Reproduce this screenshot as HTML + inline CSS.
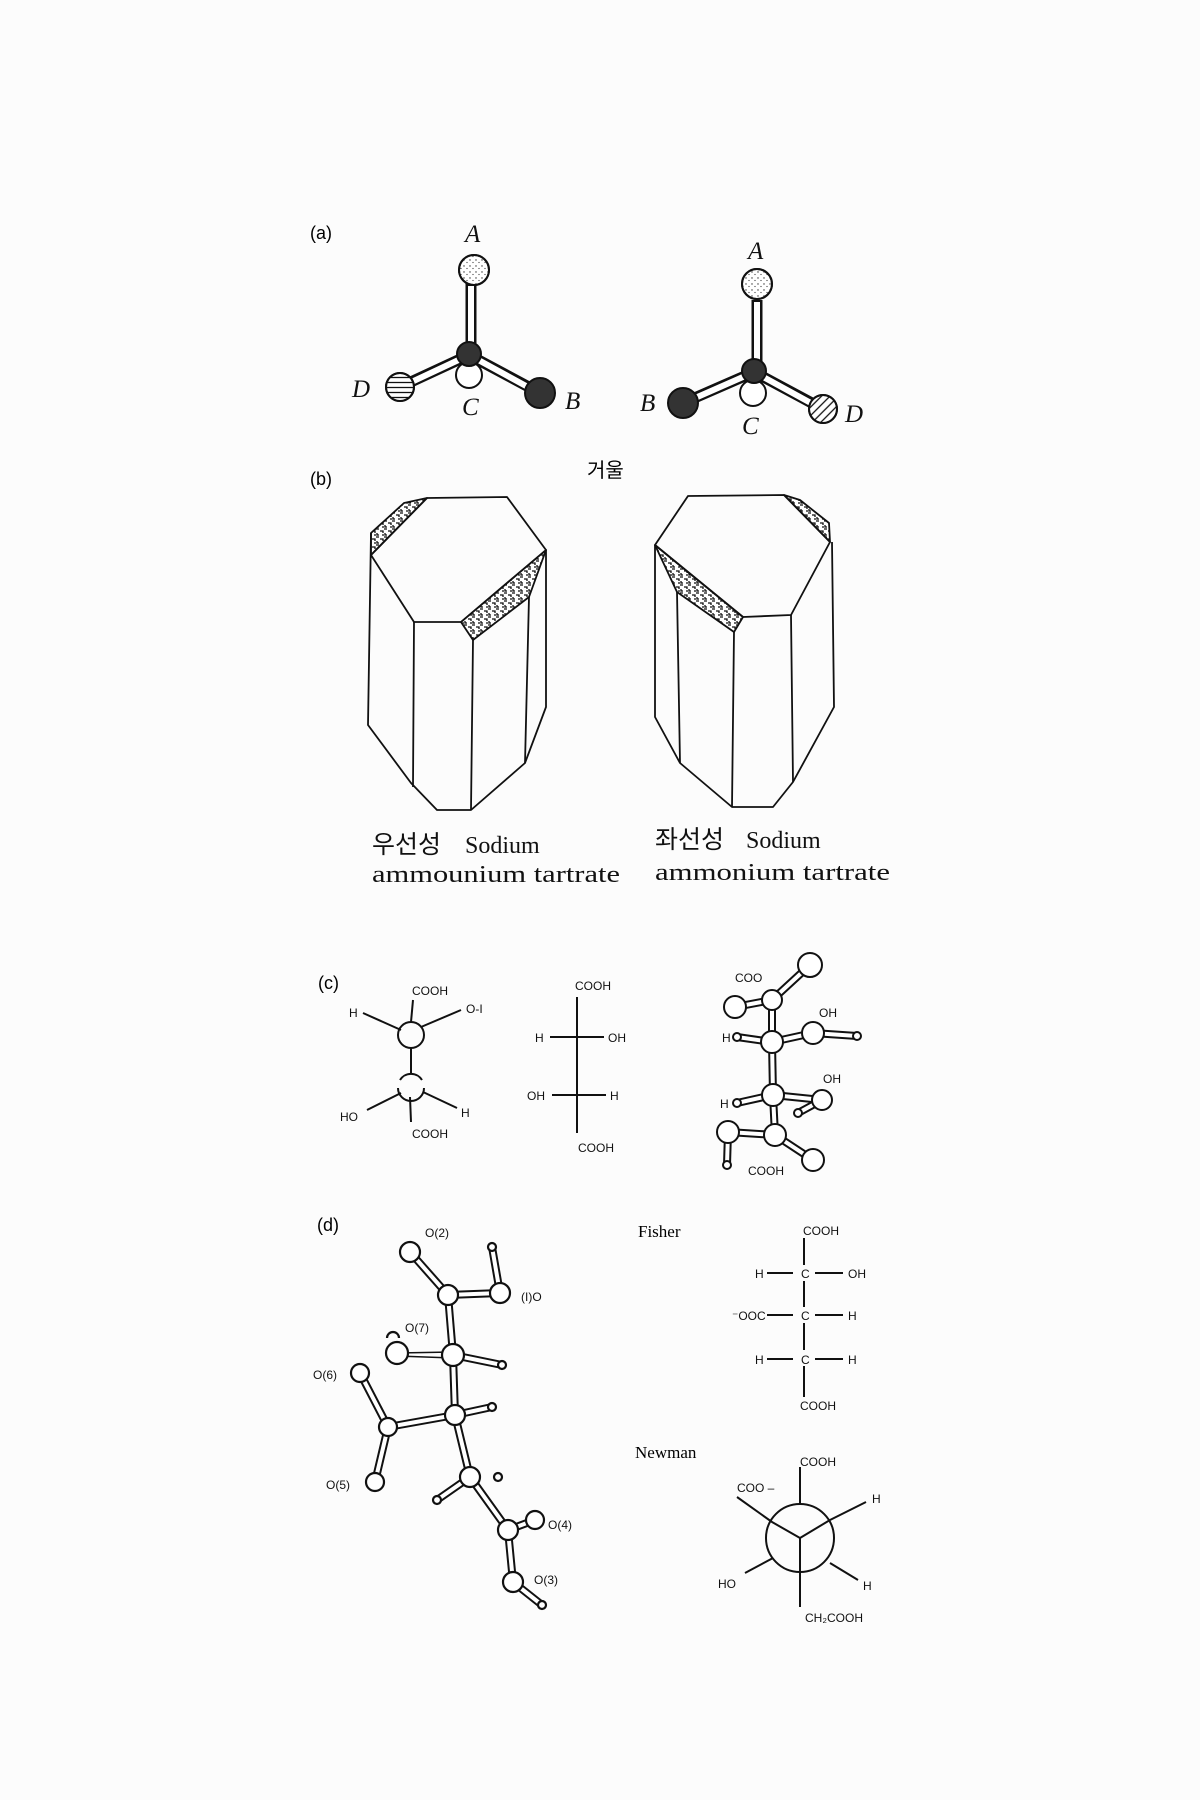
<!DOCTYPE html>
<html><head><meta charset="utf-8"><style>
html,body{margin:0;padding:0;background:#fcfcfc;}
svg{display:block}
.ser{font-family:"Liberation Serif","Noto Serif CJK SC",serif;}
.san{font-family:"Liberation Sans","Noto Sans CJK KR",sans-serif;}
.lb{font-family:"Liberation Sans",sans-serif;font-size:12px;fill:#111;}
</style></head><body>
<svg width="1200" height="1800" viewBox="0 0 1200 1800" xmlns="http://www.w3.org/2000/svg">
<defs>
<pattern id="dots" width="6" height="6" patternUnits="userSpaceOnUse"><circle cx="2" cy="2" r="0.7" fill="#333"/><circle cx="5" cy="4.5" r="0.6" fill="#333"/></pattern>
<pattern id="hz" width="5" height="5" patternUnits="userSpaceOnUse"><line x1="0" y1="2.5" x2="5" y2="2.5" stroke="#111" stroke-width="1.3"/></pattern>
<pattern id="dg" width="6" height="6" patternUnits="userSpaceOnUse" patternTransform="rotate(-45)"><line x1="0" y1="3" x2="6" y2="3" stroke="#111" stroke-width="1.3"/></pattern>
<pattern id="spk" width="8" height="8" patternUnits="userSpaceOnUse"><rect width="8" height="8" fill="#fff"/><path d="M0 1h3M4 3h3v2M1 5v2h2M6 7h2" stroke="#111" stroke-width="1.3" fill="none"/></pattern>
</defs>
<rect width="1200" height="1800" fill="#fcfcfc"/>

<!-- (a) -->
<text x="310" y="239" class="san" font-size="18">(a)</text>
<g stroke="#111" stroke-width="11" stroke-linecap="butt" fill="none">
<path d="M471 283V352M400 387L469 355M540 393L469 355M757 300V368M683 403L754 372M823 409L754 372"/>
</g>
<g stroke="#fff" stroke-width="6" fill="none">
<path d="M471 286V350M403 386L467 356M537 392L471 356M757 302V366M686 402L752 373M820 408L756 373"/>
</g>
<g stroke="#111" stroke-width="2">
<circle cx="474" cy="270" r="15" fill="#fff"/><circle cx="474" cy="270" r="15" fill="url(#dots)"/>
<circle cx="469" cy="375" r="13" fill="#fff"/>
<circle cx="469" cy="354" r="12" fill="#333"/>
<circle cx="400" cy="387" r="14" fill="#fff"/><circle cx="400" cy="387" r="14" fill="url(#hz)"/>
<circle cx="540" cy="393" r="15" fill="#333"/>
<circle cx="757" cy="284" r="15" fill="#fff"/><circle cx="757" cy="284" r="15" fill="url(#dots)"/>
<circle cx="753" cy="393" r="13" fill="#fff"/>
<circle cx="754" cy="371" r="12" fill="#333"/>
<circle cx="683" cy="403" r="15" fill="#333"/>
<circle cx="823" cy="409" r="14" fill="#fff"/><circle cx="823" cy="409" r="14" fill="url(#dg)"/>
</g>
<g class="ser" font-size="25" font-style="italic" fill="#111">
<text x="465" y="242">A</text><text x="352" y="397">D</text><text x="462" y="415">C</text><text x="565" y="409">B</text>
<text x="748" y="259">A</text><text x="640" y="411">B</text><text x="742" y="434">C</text><text x="845" y="422">D</text>
</g>
<text x="587" y="477" class="san" font-size="20">거울</text>

<!-- (b) -->
<text x="310" y="485" class="san" font-size="18">(b)</text>
<g stroke="#111" stroke-width="1.8" fill="none" stroke-linejoin="round">
<path d="M371 533L404 503L427 498L371 555Z" fill="url(#spk)"/>
<path d="M461 622L546 550L529 597L473 640Z" fill="url(#spk)"/>
<path d="M371 555L427 498L507 497L546 550L461 622L414 622Z"/>
<path d="M371 533L368 725L411 783L437 810L471 810L525 763L546 707L546 550"/>
<path d="M414 622L413 787M473 640L471 810M529 597L525 763"/>
<path d="M784 495L800 500L829 523L830 542Z" fill="url(#spk)"/>
<path d="M655 545L743 617L734 632L677 592Z" fill="url(#spk)"/>
<path d="M655 545L688 496L784 495L830 542L791 615L743 617Z"/>
<path d="M655 545L655 717L680 763L732 807L773 807L793 782L834 707L832 542"/>
<path d="M677 592L680 763M734 632L732 807M791 615L793 782"/>
</g>
<g class="ser" font-size="24" fill="#111">
<text x="372" y="853" class="san" font-size="25">우선성</text><text x="465" y="853">Sodium</text>
<text x="372" y="882" textLength="248" lengthAdjust="spacingAndGlyphs">ammounium tartrate</text>
<text x="655" y="848" class="san" font-size="25">좌선성</text><text x="746" y="848">Sodium</text>
<text x="655" y="880" textLength="235" lengthAdjust="spacingAndGlyphs">ammonium tartrate</text>
</g>

<!-- (c) -->
<text x="318" y="989" class="san" font-size="18">(c)</text>
<g stroke="#111" stroke-width="2" fill="none">
<path d="M363 1013L401 1030M413 1000L411 1022M461 1010L421 1027M411 1048V1073M367 1110L401 1093M457 1108L423 1092M410 1097L411 1122"/>
<circle cx="411" cy="1035" r="13"/>
<path d="M400 1080A13 13 0 0 1 422 1080M398 1088A13 13 0 0 0 424 1088"/>
<path d="M577 997V1133M550 1037H604M552 1095H606"/>
</g>
<g class="lb">
<text x="412" y="995">COOH</text><text x="349" y="1017">H</text><text x="466" y="1013">O-I</text>
<text x="340" y="1121">HO</text><text x="461" y="1117">H</text><text x="412" y="1138">COOH</text>
<text x="575" y="990">COOH</text><text x="535" y="1042">H</text><text x="608" y="1042">OH</text>
<text x="527" y="1100">OH</text><text x="610" y="1100">H</text><text x="578" y="1152">COOH</text>
<text x="735" y="982">COO</text><text x="819" y="1017">OH</text><text x="722" y="1042">H</text>
<text x="823" y="1083">OH</text><text x="720" y="1108">H</text><text x="748" y="1175">COOH</text>
</g>
<g stroke="#111" stroke-width="8" fill="none">
<path d="M772 1000L810 965M772 1000L735 1007M772 1000L772 1042M772 1042L737 1037M772 1042L813 1033M813 1033L857 1036M772 1042L773 1095M773 1095L737 1103M773 1095L822 1100M822 1100L798 1113M773 1095L775 1135M775 1135L728 1132M728 1132L727 1165M775 1135L813 1160"/>
</g>
<g stroke="#fff" stroke-width="4" fill="none">
<path d="M772 1000L810 965M772 1000L735 1007M772 1000L772 1042M772 1042L737 1037M772 1042L813 1033M813 1033L857 1036M772 1042L773 1095M773 1095L737 1103M773 1095L822 1100M822 1100L798 1113M773 1095L775 1135M775 1135L728 1132M728 1132L727 1165M775 1135L813 1160"/>
</g>
<g stroke="#111" stroke-width="2" fill="#fff">
<circle cx="810" cy="965" r="12"/><circle cx="772" cy="1000" r="10"/><circle cx="735" cy="1007" r="11"/>
<circle cx="772" cy="1042" r="11"/><circle cx="737" cy="1037" r="4"/><circle cx="813" cy="1033" r="11"/><circle cx="857" cy="1036" r="4"/>
<circle cx="773" cy="1095" r="11"/><circle cx="822" cy="1100" r="10"/><circle cx="798" cy="1113" r="4"/><circle cx="737" cy="1103" r="4"/>
<circle cx="775" cy="1135" r="11"/><circle cx="728" cy="1132" r="11"/><circle cx="727" cy="1165" r="4"/><circle cx="813" cy="1160" r="11"/>
</g>

<!-- (d) -->
<text x="317" y="1231" class="san" font-size="18">(d)</text>
<g stroke="#111" stroke-width="8" fill="none">
<path d="M410 1252L448 1295M448 1295L500 1293M500 1293L492 1247M448 1295L453 1355M453 1355L502 1365M453 1355L455 1415M455 1415L492 1407M455 1415L388 1427M388 1427L360 1373M388 1427L375 1482M455 1415L470 1477M470 1477L437 1500M470 1477L508 1530M508 1530L535 1520M508 1530L513 1582M513 1582L542 1605"/>
</g>
<g stroke="#fff" stroke-width="4" fill="none">
<path d="M410 1252L448 1295M448 1295L500 1293M500 1293L492 1247M448 1295L453 1355M453 1355L502 1365M453 1355L455 1415M455 1415L492 1407M455 1415L388 1427M388 1427L360 1373M388 1427L375 1482M455 1415L470 1477M470 1477L437 1500M470 1477L508 1530M508 1530L535 1520M508 1530L513 1582M513 1582L542 1605"/>
</g>
<path d="M397 1353L453 1352M397 1356L453 1358" stroke="#111" stroke-width="1.5"/>
<g stroke="#111" stroke-width="2.2" fill="#fff">
<circle cx="410" cy="1252" r="10"/><circle cx="448" cy="1295" r="10"/><circle cx="492" cy="1247" r="4"/><circle cx="500" cy="1293" r="10"/>
<circle cx="397" cy="1353" r="11"/><path d="M387 1338A6 6 0 0 1 399 1338" fill="none"/>
<circle cx="453" cy="1355" r="11"/><circle cx="502" cy="1365" r="4"/>
<circle cx="360" cy="1373" r="9"/><circle cx="455" cy="1415" r="10"/><circle cx="492" cy="1407" r="4"/><circle cx="388" cy="1427" r="9"/>
<circle cx="375" cy="1482" r="9"/><circle cx="470" cy="1477" r="10"/><circle cx="498" cy="1477" r="4"/><circle cx="437" cy="1500" r="4"/>
<circle cx="508" cy="1530" r="10"/><circle cx="535" cy="1520" r="9"/><circle cx="513" cy="1582" r="10"/><circle cx="542" cy="1605" r="4"/>
</g>
<g class="lb">
<text x="425" y="1237">O(2)</text><text x="521" y="1301">(I)O</text><text x="405" y="1332">O(7)</text>
<text x="313" y="1379">O(6)</text><text x="326" y="1489">O(5)</text><text x="548" y="1529">O(4)</text><text x="534" y="1584">O(3)</text>
</g>

<!-- Fisher / Newman -->
<text x="638" y="1237" class="ser" font-size="17">Fisher</text>
<text x="635" y="1458" class="ser" font-size="17">Newman</text>
<g stroke="#111" stroke-width="2" fill="none">
<path d="M804 1238V1265M804 1281V1307M804 1323V1350M804 1366V1397M767 1273H793M815 1273H843M767 1315H793M815 1315H843M767 1359H793M815 1359H843"/>
<circle cx="800" cy="1538" r="34"/>
<path d="M800 1538L772 1522M800 1538L830 1520M800 1538V1607M800 1467V1504M737 1497L772 1522M830 1520L866 1502M745 1573L773 1558M830 1563L858 1580"/>
</g>
<g class="lb">
<text x="803" y="1235">COOH</text>
<text x="755" y="1278">H</text><text x="801" y="1278">C</text><text x="848" y="1278">OH</text>
<text x="732" y="1320">⁻OOC</text><text x="801" y="1320">C</text><text x="848" y="1320">H</text>
<text x="755" y="1364">H</text><text x="801" y="1364">C</text><text x="848" y="1364">H</text>
<text x="800" y="1410">COOH</text>
<text x="800" y="1466">COOH</text><text x="737" y="1492">COO –</text><text x="872" y="1503">H</text>
<text x="718" y="1588">HO</text><text x="863" y="1590">H</text><text x="805" y="1622">CH₂COOH</text>
</g>
</svg>
</body></html>
